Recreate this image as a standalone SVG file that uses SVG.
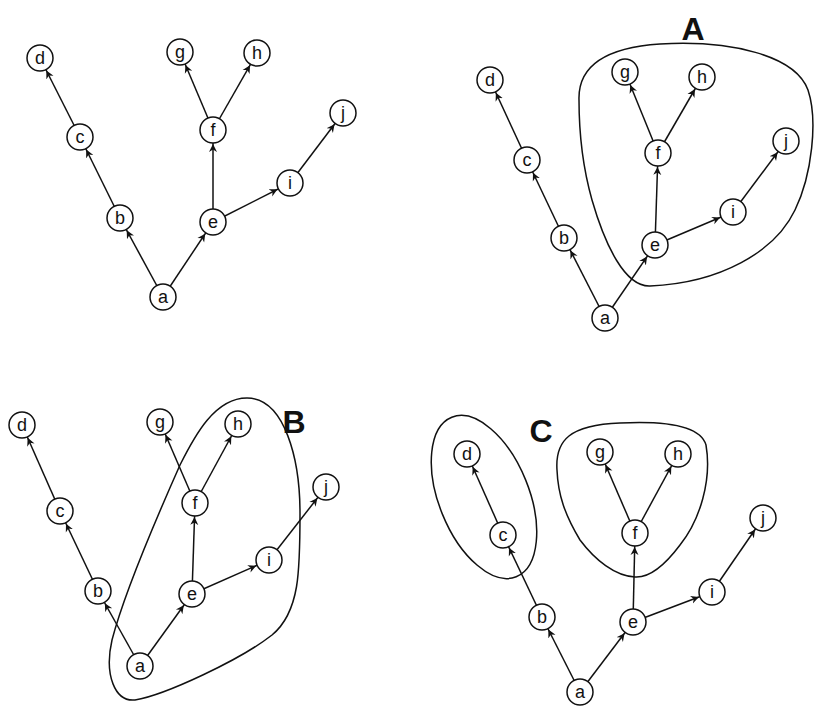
<svg xmlns="http://www.w3.org/2000/svg" width="814" height="708" viewBox="0 0 814 708">
<defs>
<marker id="arr" markerUnits="userSpaceOnUse" markerWidth="30" markerHeight="12" viewBox="0 0 30 12" refX="22" refY="6" orient="auto">
<path d="M0,2 L8,6 L0,10 L2.5,6 Z" fill="#111"/>
</marker>
</defs>
<style>
.n circle{fill:#fff;stroke:#111;stroke-width:1.5}
.n text{font-family:"Liberation Sans",Arial,sans-serif;font-size:18px;fill:#111;text-anchor:middle;dominant-baseline:central}
.e line{stroke:#111;stroke-width:1.5;marker-end:url(#arr)}
.enc{fill:none;stroke:#111;stroke-width:1.5}
.lbl{font-family:"Liberation Sans",Arial,sans-serif;font-weight:bold;font-size:32px;fill:#111;text-anchor:middle;dominant-baseline:central}
</style>
<rect width="814" height="708" fill="#fff"/>

<!-- enclosures -->
<g id="enclosures">
<path class="enc" d="M579,100 C578,70 600,48 660,44 C730,40 795,55 808,90 C818,120 812,175 795,210 C775,252 720,283 650,286 C625,287 605,245 592,200 C583,168 579,130 579,100 Z"/>
<path class="enc" d="M247,398 C215,398 195,435 180,465 C160,510 125,590 112,640 C104,675 115,702 135,700 C165,695 240,660 272,635 C300,612 300,570 300,513 C300,460 285,398 247,398 Z"/>
<ellipse class="enc" cx="484" cy="497" rx="86" ry="45" transform="rotate(68 484 497)"/>
<path class="enc" d="M557,470 C555,440 570,425 620,423 C660,421 700,424 706,445 C712,480 700,520 680,545 C665,565 650,578 635,577 C615,576 595,560 580,540 C565,515 558,495 557,470 Z"/>
</g>
<text class="lbl" x="693" y="29">A</text>
<text class="lbl" x="294" y="422">B</text>
<text class="lbl" x="541" y="431">C</text>

<!-- connectors -->
<g id="connectors" class="e">
<!-- panel 1 -->
<line x1="163" y1="297" x2="120" y2="218"/>
<line x1="120" y1="218" x2="80" y2="137"/>
<line x1="80" y1="137" x2="40" y2="58"/>
<line x1="163" y1="297" x2="213" y2="222"/>
<line x1="213" y1="222" x2="213" y2="130"/>
<line x1="213" y1="130" x2="180" y2="52"/>
<line x1="213" y1="130" x2="257" y2="53"/>
<line x1="213" y1="222" x2="290" y2="183"/>
<line x1="290" y1="183" x2="343" y2="113"/>
<!-- panel 2 -->
<line x1="605" y1="318" x2="564" y2="238"/>
<line x1="564" y1="238" x2="527" y2="160"/>
<line x1="527" y1="160" x2="490" y2="80"/>
<line x1="605" y1="318" x2="655" y2="245"/>
<line x1="655" y1="245" x2="658" y2="153"/>
<line x1="658" y1="153" x2="625" y2="72"/>
<line x1="658" y1="153" x2="702" y2="77"/>
<line x1="655" y1="245" x2="733" y2="212"/>
<line x1="733" y1="212" x2="786" y2="141"/>
<!-- panel 3 -->
<line x1="140" y1="666" x2="98" y2="591"/>
<line x1="98" y1="591" x2="60" y2="511"/>
<line x1="60" y1="511" x2="22" y2="425"/>
<line x1="140" y1="666" x2="192" y2="594"/>
<line x1="192" y1="594" x2="195" y2="503"/>
<line x1="195" y1="503" x2="160" y2="422"/>
<line x1="195" y1="503" x2="238" y2="424"/>
<line x1="192" y1="594" x2="269" y2="560"/>
<line x1="269" y1="560" x2="326" y2="487"/>
<!-- panel 4 -->
<line x1="580" y1="692" x2="542" y2="617"/>
<line x1="542" y1="617" x2="503" y2="535"/>
<line x1="503" y1="535" x2="467" y2="454"/>
<line x1="580" y1="692" x2="633" y2="622"/>
<line x1="633" y1="622" x2="635" y2="533"/>
<line x1="635" y1="533" x2="600" y2="452"/>
<line x1="635" y1="533" x2="678" y2="454"/>
<line x1="633" y1="622" x2="712" y2="592"/>
<line x1="712" y1="592" x2="763" y2="518"/>
</g>

<!-- panel 1 nodes -->
<g id="p1-a" class="n"><circle cx="163" cy="297" r="13"/><text x="163" y="297">a</text></g>
<g id="p1-b" class="n"><circle cx="120" cy="218" r="13"/><text x="120" y="218">b</text></g>
<g id="p1-c" class="n"><circle cx="80" cy="137" r="13"/><text x="80" y="137">c</text></g>
<g id="p1-d" class="n"><circle cx="40" cy="58" r="13"/><text x="40" y="58">d</text></g>
<g id="p1-e" class="n"><circle cx="213" cy="222" r="13"/><text x="213" y="222">e</text></g>
<g id="p1-f" class="n"><circle cx="213" cy="130" r="13"/><text x="213" y="130">f</text></g>
<g id="p1-g" class="n"><circle cx="180" cy="52" r="13"/><text x="180" y="52">g</text></g>
<g id="p1-h" class="n"><circle cx="257" cy="53" r="13"/><text x="257" y="53">h</text></g>
<g id="p1-i" class="n"><circle cx="290" cy="183" r="13"/><text x="290" y="183">i</text></g>
<g id="p1-j" class="n"><circle cx="343" cy="113" r="13"/><text x="343" y="113">j</text></g>

<!-- panel 2 nodes -->
<g id="p2-a" class="n"><circle cx="605" cy="318" r="13"/><text x="605" y="318">a</text></g>
<g id="p2-b" class="n"><circle cx="564" cy="238" r="13"/><text x="564" y="238">b</text></g>
<g id="p2-c" class="n"><circle cx="527" cy="160" r="13"/><text x="527" y="160">c</text></g>
<g id="p2-d" class="n"><circle cx="490" cy="80" r="13"/><text x="490" y="80">d</text></g>
<g id="p2-e" class="n"><circle cx="655" cy="245" r="13"/><text x="655" y="245">e</text></g>
<g id="p2-f" class="n"><circle cx="658" cy="153" r="13"/><text x="658" y="153">f</text></g>
<g id="p2-g" class="n"><circle cx="625" cy="72" r="13"/><text x="625" y="72">g</text></g>
<g id="p2-h" class="n"><circle cx="702" cy="77" r="13"/><text x="702" y="77">h</text></g>
<g id="p2-i" class="n"><circle cx="733" cy="212" r="13"/><text x="733" y="212">i</text></g>
<g id="p2-j" class="n"><circle cx="786" cy="141" r="13"/><text x="786" y="141">j</text></g>

<!-- panel 3 nodes -->
<g id="p3-a" class="n"><circle cx="140" cy="666" r="13"/><text x="140" y="666">a</text></g>
<g id="p3-b" class="n"><circle cx="98" cy="591" r="13"/><text x="98" y="591">b</text></g>
<g id="p3-c" class="n"><circle cx="60" cy="511" r="13"/><text x="60" y="511">c</text></g>
<g id="p3-d" class="n"><circle cx="22" cy="425" r="13"/><text x="22" y="425">d</text></g>
<g id="p3-e" class="n"><circle cx="192" cy="594" r="13"/><text x="192" y="594">e</text></g>
<g id="p3-f" class="n"><circle cx="195" cy="503" r="13"/><text x="195" y="503">f</text></g>
<g id="p3-g" class="n"><circle cx="160" cy="422" r="13"/><text x="160" y="422">g</text></g>
<g id="p3-h" class="n"><circle cx="238" cy="424" r="13"/><text x="238" y="424">h</text></g>
<g id="p3-i" class="n"><circle cx="269" cy="560" r="13"/><text x="269" y="560">i</text></g>
<g id="p3-j" class="n"><circle cx="326" cy="487" r="13"/><text x="326" y="487">j</text></g>

<!-- panel 4 nodes -->
<g id="p4-a" class="n"><circle cx="580" cy="692" r="13"/><text x="580" y="692">a</text></g>
<g id="p4-b" class="n"><circle cx="542" cy="617" r="13"/><text x="542" y="617">b</text></g>
<g id="p4-c" class="n"><circle cx="503" cy="535" r="13"/><text x="503" y="535">c</text></g>
<g id="p4-d" class="n"><circle cx="467" cy="454" r="13"/><text x="467" y="454">d</text></g>
<g id="p4-e" class="n"><circle cx="633" cy="622" r="13"/><text x="633" y="622">e</text></g>
<g id="p4-f" class="n"><circle cx="635" cy="533" r="13"/><text x="635" y="533">f</text></g>
<g id="p4-g" class="n"><circle cx="600" cy="452" r="13"/><text x="600" y="452">g</text></g>
<g id="p4-h" class="n"><circle cx="678" cy="454" r="13"/><text x="678" y="454">h</text></g>
<g id="p4-i" class="n"><circle cx="712" cy="592" r="13"/><text x="712" y="592">i</text></g>
<g id="p4-j" class="n"><circle cx="763" cy="518" r="13"/><text x="763" y="518">j</text></g>
</svg>
